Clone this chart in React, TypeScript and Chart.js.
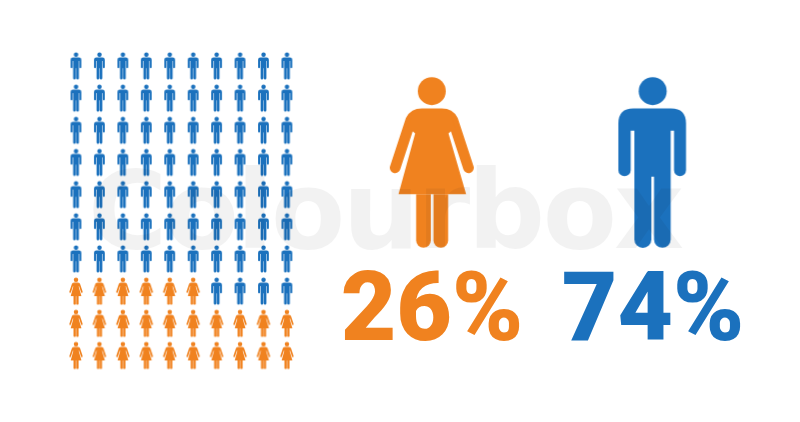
import React, { useEffect, useRef } from "react";
import { Chart, registerables } from "chart.js";

Chart.register(...registerables);

const columns = [1, 2, 3, 4, 5, 6, 7, 8, 9, 10];
const rows = [1, 2, 3, 4, 5, 6, 7, 8, 9, 10];
const womenPerRow = [0, 0, 0, 0, 0, 0, 0, 6, 10, 10];
const labels = ["26%", "74%"];
const bigX = [16.18, 25.59];
const bigY = [4.0, 4.0];
const labelX = [16.19, 25.62];
const labelY = [9.52, 9.52];
const watermark = "Colourbox";

const ORANGE = "#F0821F";
const BLUE = "#1B71BD";

function womanIcon(k: number, color: string) {
  const cw = 250, ch = 512, ox = 155, oy = 277;
  const c = document.createElement("canvas");
  c.width = Math.ceil(cw * k) + 2;
  c.height = Math.ceil(ch * k) + 2;
  const g = c.getContext("2d")!;
  g.translate(c.width / 2, c.height / 2);
  g.scale(k, k);
  g.translate(-ox, -oy);
  g.fillStyle = color;
  g.strokeStyle = color;
  g.beginPath();
  g.arc(155, 63, 42, 0, Math.PI * 2);
  g.fill();
  g.lineWidth = 32;
  g.lineCap = "round";
  g.lineJoin = "round";
  g.beginPath();
  g.moveTo(45, 293);
  g.lineTo(92, 150);
  g.quadraticCurveTo(102, 131, 125, 131);
  g.lineTo(185, 131);
  g.quadraticCurveTo(208, 131, 218, 150);
  g.lineTo(265, 293);
  g.stroke();
  g.beginPath();
  g.moveTo(100, 125);
  g.lineTo(210, 125);
  g.lineTo(225, 172);
  g.lineTo(205, 190);
  g.lineTo(258, 372);
  g.lineTo(55, 372);
  g.lineTo(105, 190);
  g.lineTo(85, 172);
  g.closePath();
  g.fill();
  for (const [a, b] of [[108, 152], [160, 204]]) {
    const r = (b - a) / 2;
    g.beginPath();
    g.moveTo(a, 372);
    g.lineTo(b, 372);
    g.lineTo(b, 533 - r);
    g.arc(a + r, 533 - r, r, 0, Math.PI);
    g.closePath();
    g.fill();
  }
  return c;
}

function manIcon(k: number, color: string) {
  const cw = 204, ch = 512, ox = 157, oy = 277;
  const c = document.createElement("canvas");
  c.width = Math.ceil(cw * k) + 2;
  c.height = Math.ceil(ch * k) + 2;
  const g = c.getContext("2d")!;
  g.translate(c.width / 2, c.height / 2);
  g.scale(k, k);
  g.translate(-ox, -oy);
  g.fillStyle = color;
  g.beginPath();
  g.arc(158, 63, 42, 0, Math.PI * 2);
  g.fill();
  g.beginPath();
  g.moveTo(55, 160);
  g.quadraticCurveTo(55, 115, 100, 115);
  g.lineTo(213, 115);
  g.quadraticCurveTo(258, 115, 258, 160);
  g.lineTo(258, 300);
  g.arc(240, 300, 18, 0, Math.PI);
  g.lineTo(222, 182);
  g.lineTo(212, 182);
  g.lineTo(212, 508);
  g.arc(187, 508, 25, 0, Math.PI);
  g.lineTo(162, 320);
  g.lineTo(154, 320);
  g.lineTo(154, 508);
  g.arc(128.5, 508, 25.5, 0, Math.PI);
  g.lineTo(103, 182);
  g.lineTo(92, 182);
  g.lineTo(92, 300);
  g.arc(73.5, 300, 18.5, 0, Math.PI);
  g.closePath();
  g.fill();
  return c;
}

const textPlugin = {
  id: "pictogramText",
  afterDatasetsDraw(chart: any) {
    const { ctx, scales } = chart;
    ctx.save();
    ctx.textAlign = "center";
    ctx.textBaseline = "alphabetic";
    ctx.font = "900 96px Roboto";
    labels.forEach((t, i) => {
      ctx.fillStyle = i === 0 ? ORANGE : BLUE;
      ctx.fillText(t, scales.x.getPixelForValue(labelX[i]), scales.y.getPixelForValue(labelY[i]));
    });
    ctx.globalCompositeOperation = "multiply";
    ctx.fillStyle = "rgba(0,0,0,0.05)";
    ctx.font = "700 108px 'DejaVu Sans'";
    (ctx as any).letterSpacing = "-2.5px";
    ctx.textAlign = "left";
    ctx.fillText(watermark, 88, 248);
    ctx.restore();
  },
};

export default function App() {
  const ref = useRef<HTMLCanvasElement>(null);
  useEffect(() => {
    document.body.style.margin = "0";
    const women: { x: number; y: number }[] = [];
    const men: { x: number; y: number }[] = [];
    rows.forEach((y, r) => {
      columns.forEach((x, c) => {
        (c < womenPerRow[r] ? women : men).push({ x, y });
      });
    });
    const small = 0.053;
    const big = 1 / 3;
    const chart = new Chart(ref.current!, {
      type: "scatter",
      data: {
        datasets: [
          { label: "Women", data: women, pointStyle: womanIcon(small, ORANGE), pointRadius: 5 },
          { label: "Men", data: men, pointStyle: manIcon(small, BLUE), pointRadius: 5 },
          { label: "Women total", data: [{ x: bigX[0], y: bigY[0] }], pointStyle: womanIcon(big, ORANGE), pointRadius: 5 },
          { label: "Men total", data: [{ x: bigX[1], y: bigY[1] }], pointStyle: manIcon(big, BLUE), pointRadius: 5 },
        ],
      },
      options: {
        responsive: false,
        animation: false,
        layout: { padding: 0, autoPadding: false },
        events: [],
        plugins: { legend: { display: false }, tooltip: { enabled: false } },
        scales: {
          x: { type: "linear", display: false, min: -2.24, max: 31.89 },
          y: { type: "linear", display: false, reverse: true, min: -1.05, max: 12.07 },
        },
      },
      plugins: [textPlugin],
    } as any);
    return () => chart.destroy();
  }, []);
  return <canvas ref={ref} width={800} height={422} style={{ display: "block" }} />;
}
